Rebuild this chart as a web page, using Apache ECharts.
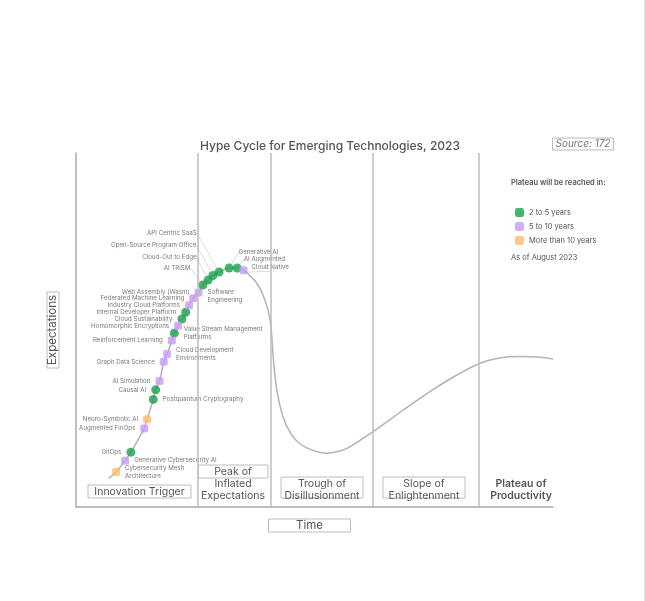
<!DOCTYPE html>
<html>
<head>
<meta charset="utf-8">
<script src="https://cdn.jsdelivr.net/npm/echarts/dist/echarts.min.js"></script>
<style>
html, body { margin: 0; padding: 0; background: #fff; }
#chart { width: 645px; height: 601px; box-sizing: border-box; border-right: 1px solid #e6e6e6; }
</style>
</head>
<body>
<div id="chart"></div>
<script>
// plateau groups (legend)
const groupNames = ['2 to 5 years', '5 to 10 years', 'More than 10 years'];
const groupColors = ['#1a9f4b', '#c79cf5', '#fbbc6c'];

// technologies along the rising slope
const techNames = [
  'Cybersecurity Mesh Architecture', 'Generative Cybersecurity AI', 'GitOps', 'Augmented FinOps',
  'Neuro-Symbolic AI', 'Postquantum Cryptography', 'Causal AI', 'AI Simulation', 'Graph Data Science',
  'Cloud Development Environments', 'Reinforcement Learning', 'Value Stream Management Platforms',
  'Homomorphic Encryptions', 'Cloud Sustainability', 'Internal Developer Platform',
  'Industry Cloud Platforms', 'Federated Machine Learning', 'Web Assembly (Wasm)', 'AI TRiSM',
  'Cloud-Out to Edge', 'Open-Source Program Office', 'API Centric SaaS', 'Generative AI',
  'AI Augmented', 'Cloud Native'
];
const techX = [8.4, 10.3, 11.5, 14.3, 14.9, 16.2, 16.7, 17.5, 18.4, 19.1, 20.1, 20.6, 21.4, 22.2, 23.0,
  23.7, 24.6, 25.7, 26.6, 27.7, 28.7, 30.0, 32.1, 33.8, 35.1];
const techY = [9.9, 13.1, 15.5, 22.2, 24.8, 30.4, 33.1, 35.6, 41.0, 43.2, 47.0, 49.1, 51.2, 53.1, 55.0,
  57.0, 59.0, 60.6, 62.7, 64.1, 65.4, 66.4, 67.5, 67.5, 66.9];
const techGroup = [2, 1, 0, 1, 2, 0, 0, 1, 1, 1, 1, 0, 1, 0, 0, 1, 1, 1, 0, 0, 0, 0, 0, 0, 1];

// hype curve trace
const curveX = [6.9, 8.4, 10.3, 11.5, 14.3, 14.9, 16.2, 16.7, 17.5, 18.4, 19.1, 20.1, 20.6, 21.4, 22.2,
  23.0, 23.7, 24.6, 25.7, 26.6, 27.7, 28.7, 30.0, 32.1, 33.8, 35.1, 37.9, 39.6, 40.7, 41.4, 42.1, 43.4,
  45.0, 47.0, 49.7, 52.6, 55.3, 57.4, 62.3, 68.6, 74.2, 79.5, 84.7, 88.9, 93.1, 97.3, 100];
const curveY = [8.1, 9.9, 13.1, 15.5, 22.2, 24.8, 30.4, 33.1, 35.6, 41.0, 43.2, 47.0, 49.1, 51.2, 53.1,
  55.0, 57.0, 59.0, 60.6, 62.7, 64.1, 65.4, 66.4, 67.5, 67.5, 66.9, 63.2, 58.5, 52.8, 41.5, 33.1, 25.5,
  20.8, 17.8, 16.0, 15.2, 15.8, 17.0, 21.3, 27.4, 32.6, 37.0, 40.6, 42.1, 42.5, 42.3, 41.8];

// phase borders on the time axis
const phaseBounds = [25.5, 40.8, 62.3, 84.5];

// label placement
const rightSide = ['Cybersecurity Mesh Architecture', 'Generative Cybersecurity AI', 'Postquantum Cryptography',
  'Cloud Development Environments', 'Value Stream Management Platforms', 'Generative AI', 'AI Augmented', 'Cloud Native'];
const wrapped = {
  'Cybersecurity Mesh Architecture': 'Cybersecurity Mesh\nArchitecture',
  'Cloud Development Environments': 'Cloud Development\nEnvironments',
  'Value Stream Management Platforms': 'Value Stream Management\nPlatforms'
};
const nudge = {
  'Cybersecurity Mesh Architecture': 4, 'Cloud Development Environments': 4,
  'Value Stream Management Platforms': 4, 'Web Assembly (Wasm)': -4, 'GitOps': -2
};
const callouts = {
  'AI TRiSM': [-3, -17], 'Cloud-Out to Edge': [-2, -23], 'Open-Source Program Office': [-7, -30],
  'API Centric SaaS': [-13, -39], 'Generative AI': [0, -16], 'AI Augmented': [-3, -9], 'Cloud Native': [-1, -3]
};

const grey = '#555';
const font = 'Inter, "DejaVu Sans", sans-serif';
const chart = echarts.init(document.getElementById('chart'));

function groupSeries(g) {
  const items = [];
  techNames.forEach((name, i) => {
    if (techGroup[i] !== g) return;
    const item = {
      name: name,
      value: [techX[i], techY[i]],
      label: { position: rightSide.includes(name) ? 'right' : 'left', offset: [0, nudge[name] || 0] }
    };
    if (callouts[name]) item.labelLine = { show: true };
    items.push(item);
  });
  return {
    type: 'scatter',
    name: groupNames[g],
    data: items,
    symbol: g === 0 ? 'circle' : 'roundRect',
    symbolSize: g === 0 ? 9 : 8,
    itemStyle: { color: groupColors[g] },
    label: {
      show: true, fontSize: 6.2, lineHeight: 8, color: grey, fontFamily: font,
      formatter: p => wrapped[p.name] || p.name
    },
    labelLine: { show: false, lineStyle: { color: '#c4c4c4', width: 0.6 } },
    labelLayout: p => {
      const c = callouts[items[p.dataIndex].name];
      return c ? { dx: c[0], dy: c[1] } : {};
    },
    z: 3
  };
}

function boxedText(cx, cy, w, h, lines, bold, size) {
  const els = [];
  if (w) {
    els.push({ type: 'rect', shape: { x: cx - w / 2, y: cy, width: w, height: h },
      style: { fill: 'none', stroke: '#bdbdbd', lineWidth: 1 }, silent: true });
  }
  lines.forEach((t, k) => {
    els.push({ type: 'text', x: cx, y: cy + 6.5 + k * 12, silent: true,
      style: { text: t, align: 'center', verticalAlign: 'middle', fontSize: size || 10.5,
        fontWeight: bold ? 600 : 400, fill: grey, fontFamily: font } });
  });
  return els;
}

const option = {
  animation: false,
  backgroundColor: '#fff',
  title: {
    text: 'Hype Cycle for Emerging Technologies, 2023',
    left: 325, top: 135, textAlign: 'center',
    textStyle: { fontSize: 12, fontWeight: 500, color: grey, fontFamily: font }
  },
  legend: {
    data: groupNames, orient: 'vertical', left: 510, top: 203,
    itemWidth: 9, itemHeight: 9, itemGap: 5, icon: 'roundRect', selectedMode: false,
    textStyle: { fontSize: 7.5, color: grey, fontFamily: font }
  },
  grid: { left: 76, top: 153, width: 477, height: 354, containLabel: false, outerBoundsMode: 'none' },
  xAxis: {
    type: 'value', min: 0, max: 100,
    axisLine: { show: true, lineStyle: { color: '#aaa', width: 1.5 } },
    axisTick: { show: false }, axisLabel: { show: false }, splitLine: { show: false }
  },
  yAxis: {
    type: 'value', min: 0, max: 100,
    name: 'Expectations', nameLocation: 'middle', nameRotate: 90, nameGap: 17,
    nameTextStyle: { fontSize: 11.5, color: grey, fontFamily: font, borderColor: '#bdbdbd', borderWidth: 1, padding: [0, 3] },
    axisLine: { show: true, lineStyle: { color: '#aaa', width: 1.5 } },
    axisTick: { show: false }, axisLabel: { show: false }, splitLine: { show: false }
  },
  series: [
    {
      type: 'line',
      data: curveX.map((x, i) => [x, curveY[i]]),
      showSymbol: false, smooth: 0.35, silent: true, z: 2,
      lineStyle: { color: '#b3b3b3', width: 1.5 },
      markLine: {
        silent: true, symbol: 'none', label: { show: false },
        lineStyle: { color: '#bdbdbd', width: 1.5, type: 'solid' },
        data: phaseBounds.map(v => ({ xAxis: v }))
      }
    },
    groupSeries(0),
    groupSeries(1),
    groupSeries(2),
    {
      type: 'scatter', silent: true, symbolSize: 0,
      data: [{ name: 'Software\nEngineering', value: [techX[17], techY[17]] }],
      label: { show: true, position: 'right', distance: 9, offset: [0, 4], fontSize: 6.2, lineHeight: 8,
        color: grey, fontFamily: font, formatter: p => p.name }
    }
  ],
  graphic: [
    { type: 'text', x: 583, y: 144, silent: true,
      style: { text: 'Source: 172', align: 'center', verticalAlign: 'middle', fontSize: 10, fontStyle: 'italic',
        fill: '#777', fontFamily: font, borderColor: '#bbb', borderWidth: 1, padding: [1, 3] } },
    { type: 'text', x: 511, y: 183, silent: true,
      style: { text: 'Plateau will be reached in:', verticalAlign: 'middle', fontSize: 7.5, fontWeight: 600,
        fill: grey, fontFamily: font } },
    { type: 'text', x: 511, y: 258, silent: true,
      style: { text: 'As of August 2023', verticalAlign: 'middle', fontSize: 7.5, fill: grey, fontFamily: font } },
    ...boxedText(139.5, 485, 103, 13, ['Innovation Trigger']),
    ...boxedText(233, 465, 70, 13, ['Peak of', 'Inflated', 'Expectations']),
    ...boxedText(322, 477, 82, 21, ['Trough of', 'Disillusionment']),
    ...boxedText(424, 477, 82, 21, ['Slope of', 'Enlightenment']),
    ...boxedText(521, 477, 0, 0, ['Plateau of', 'Productivity'], true),
    ...boxedText(309.5, 519, 82, 13, ['Time'], false, 11.5)
  ]
};

chart.setOption(option);
</script>
</body>
</html>
